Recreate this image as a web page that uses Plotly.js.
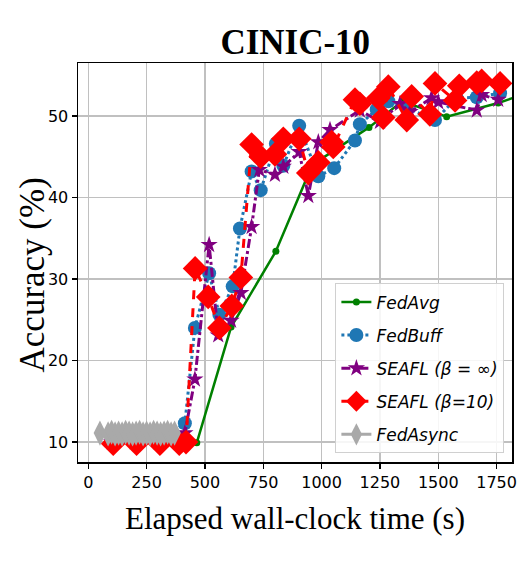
<!DOCTYPE html>
<html>
<head>
<meta charset="utf-8">
<script src="https://cdn.plot.ly/plotly-3.0.1.min.js"></script>
<style>html,body{margin:0;padding:0;background:#fff}</style>
</head>
<body>
<div id="chart" style="width:532px;height:567px"></div>
<script>
// FedAvg
const fedavgX = [465, 612, 804, 960, 1203, 1345, 1536, 1757, 1840];
const fedavgY = [9.9, 24.1, 33.4, 44.0, 48.6, 51.8, 49.9, 51.6, 52.4];
// FedBuff
const fedbuffX = [100, 200, 300, 414, 457, 518, 562, 619, 650, 700, 739, 804, 836, 904, 986, 1054, 1143, 1164, 1236, 1286, 1365, 1486, 1579, 1665, 1765];
const fedbuffY = [10.0, 10.0, 10.0, 12.3, 24.0, 30.7, 25.6, 29.1, 36.2, 43.2, 40.9, 46.6, 43.9, 48.8, 42.6, 43.6, 47.0, 49.0, 50.8, 51.8, 51.0, 49.5, 52.2, 52.3, 52.8];
// SEAFL (beta = inf)
const seaflInfX = [100, 200, 300, 414, 457, 518, 557, 612, 654, 700, 733, 800, 836, 904, 943, 986, 1036, 1164, 1250, 1336, 1379, 1471, 1500, 1665, 1686, 1757];
const seaflInfY = [10.0, 10.0, 10.0, 11.1, 17.7, 34.2, 23.1, 24.9, 28.3, 36.4, 43.4, 42.8, 43.8, 45.6, 40.2, 46.8, 48.3, 50.7, 49.3, 51.5, 50.5, 52.2, 51.7, 50.7, 52.6, 52.0];
// SEAFL (beta = 10)
const seafl10X = [107, 207, 307, 390, 419, 458, 514, 562, 615, 654, 700, 739, 800, 836, 904, 943, 986, 1043, 1050, 1143, 1164, 1243, 1264, 1286, 1365, 1386, 1464, 1486, 1572, 1590, 1665, 1686, 1765];
const seafl10Y = [9.8, 9.8, 9.8, 9.8, 10.0, 31.3, 27.8, 24.0, 26.7, 30.2, 46.5, 45.0, 45.3, 47.2, 47.2, 43.0, 44.3, 46.8, 46.2, 52.0, 51.5, 52.2, 49.8, 53.6, 49.5, 52.4, 50.2, 54.0, 51.9, 53.7, 54.1, 54.3, 54.0];
// FedAsync
const fedasyncX = [50, 85, 100, 115, 130, 145, 160, 175, 190, 205, 220, 235, 250, 265, 280, 295, 310, 325, 340, 355, 370];
const fedasyncY = [11.1, 11.0, 11.2, 11.0, 11.1, 11.0, 11.2, 11.1, 11.0, 11.1, 11.2, 11.0, 11.1, 11.0, 11.2, 11.1, 11.0, 11.1, 11.2, 11.0, 11.1];

const xTicks = [0, 250, 500, 750, 1000, 1250, 1500, 1750];
const yTicks = [10, 20, 30, 40, 50];

const traces = [
  {x: fedavgX, y: fedavgY, name: 'FedAvg', mode: 'lines+markers', legendgroup: 'a',
   line: {color: '#008000', width: 2.5, dash: 'solid'}, marker: {symbol: 'circle', size: 7, color: '#008000'}},
  {x: fedbuffX, y: fedbuffY, name: 'FedBuff', mode: 'lines+markers', legendgroup: 'b',
   line: {color: '#1f77b4', width: 3, dash: 'dot'}, marker: {symbol: 'circle', size: 14, color: '#1f77b4'}},
  {x: seaflInfX, y: seaflInfY, name: 'SEAFL (β = ∞)', mode: 'lines+markers', legendgroup: 'c',
   line: {color: '#800080', width: 3, dash: 'dashdot'}, marker: {symbol: 'star', size: 13, color: '#800080'}},
  {x: seafl10X, y: seafl10Y, name: 'SEAFL (β=10)', mode: 'lines+markers', legendgroup: 'd',
   line: {color: '#ff0000', width: 3, dash: 'dash'}, marker: {symbol: 'diamond', size: 19, color: '#ff0000'}},
  {x: fedasyncX, y: fedasyncY, name: 'FedAsync', mode: 'lines+markers', legendgroup: 'e',
   line: {color: '#a9a9a9', width: 3, dash: 'solid'}, marker: {symbol: 'diamond-tall', size: 18, color: '#a9a9a9'}}
];

const axisCommon = {
  showline: true, linecolor: '#000', linewidth: 1.5, mirror: true,
  ticks: 'outside', ticklen: 5, tickcolor: '#000', tickwidth: 1.2,
  showgrid: true, gridcolor: '#c0c0c0', gridwidth: 1.5, zeroline: false,
  tickfont: {family: 'DejaVu Sans', size: 16, color: '#000'}
};

const layout = {
  width: 532, height: 567,
  margin: {l: 78, r: 20, t: 63, b: 105},
  paper_bgcolor: '#fff', plot_bgcolor: '#fff',
  showlegend: true,
  title: {text: '<b>CINIC-10</b>', font: {family: 'Liberation Serif', size: 35, color: '#000'},
          x: 0.555, xanchor: 'center', y: 0.927, yanchor: 'middle', yref: 'container'},
  xaxis: Object.assign({}, axisCommon, {
    range: [-44, 1816], tickvals: xTicks, ticktext: xTicks.map(String),
    title: {text: 'Elapsed wall-clock time (s)', font: {family: 'Liberation Serif', size: 31, color: '#000'}, standoff: 16}
  }),
  yaxis: Object.assign({}, axisCommon, {
    range: [7.55, 56.5], tickvals: yTicks, ticktext: yTicks.map(String)
  }),
  annotations: [{
    text: 'Accuracy (%)', textangle: -90, showarrow: false,
    xref: 'paper', yref: 'paper', x: -0.106, y: 0.47, xanchor: 'center', yanchor: 'middle',
    font: {family: 'Liberation Serif', size: 35, color: '#000'}
  }],
  legend: {
    x: 0.982, y: 0.022, xanchor: 'right', yanchor: 'bottom',
    bgcolor: 'rgba(255,255,255,0.85)', bordercolor: '#d0d0d0', borderwidth: 1.2,
    font: {family: 'DejaVu Sans', size: 17, color: '#000', style: 'italic'},
    tracegroupgap: 8, traceorder: 'grouped'
  }
};

Plotly.newPlot('chart', traces, layout, {displayModeBar: false, staticPlot: true});
</script>
</body>
</html>
